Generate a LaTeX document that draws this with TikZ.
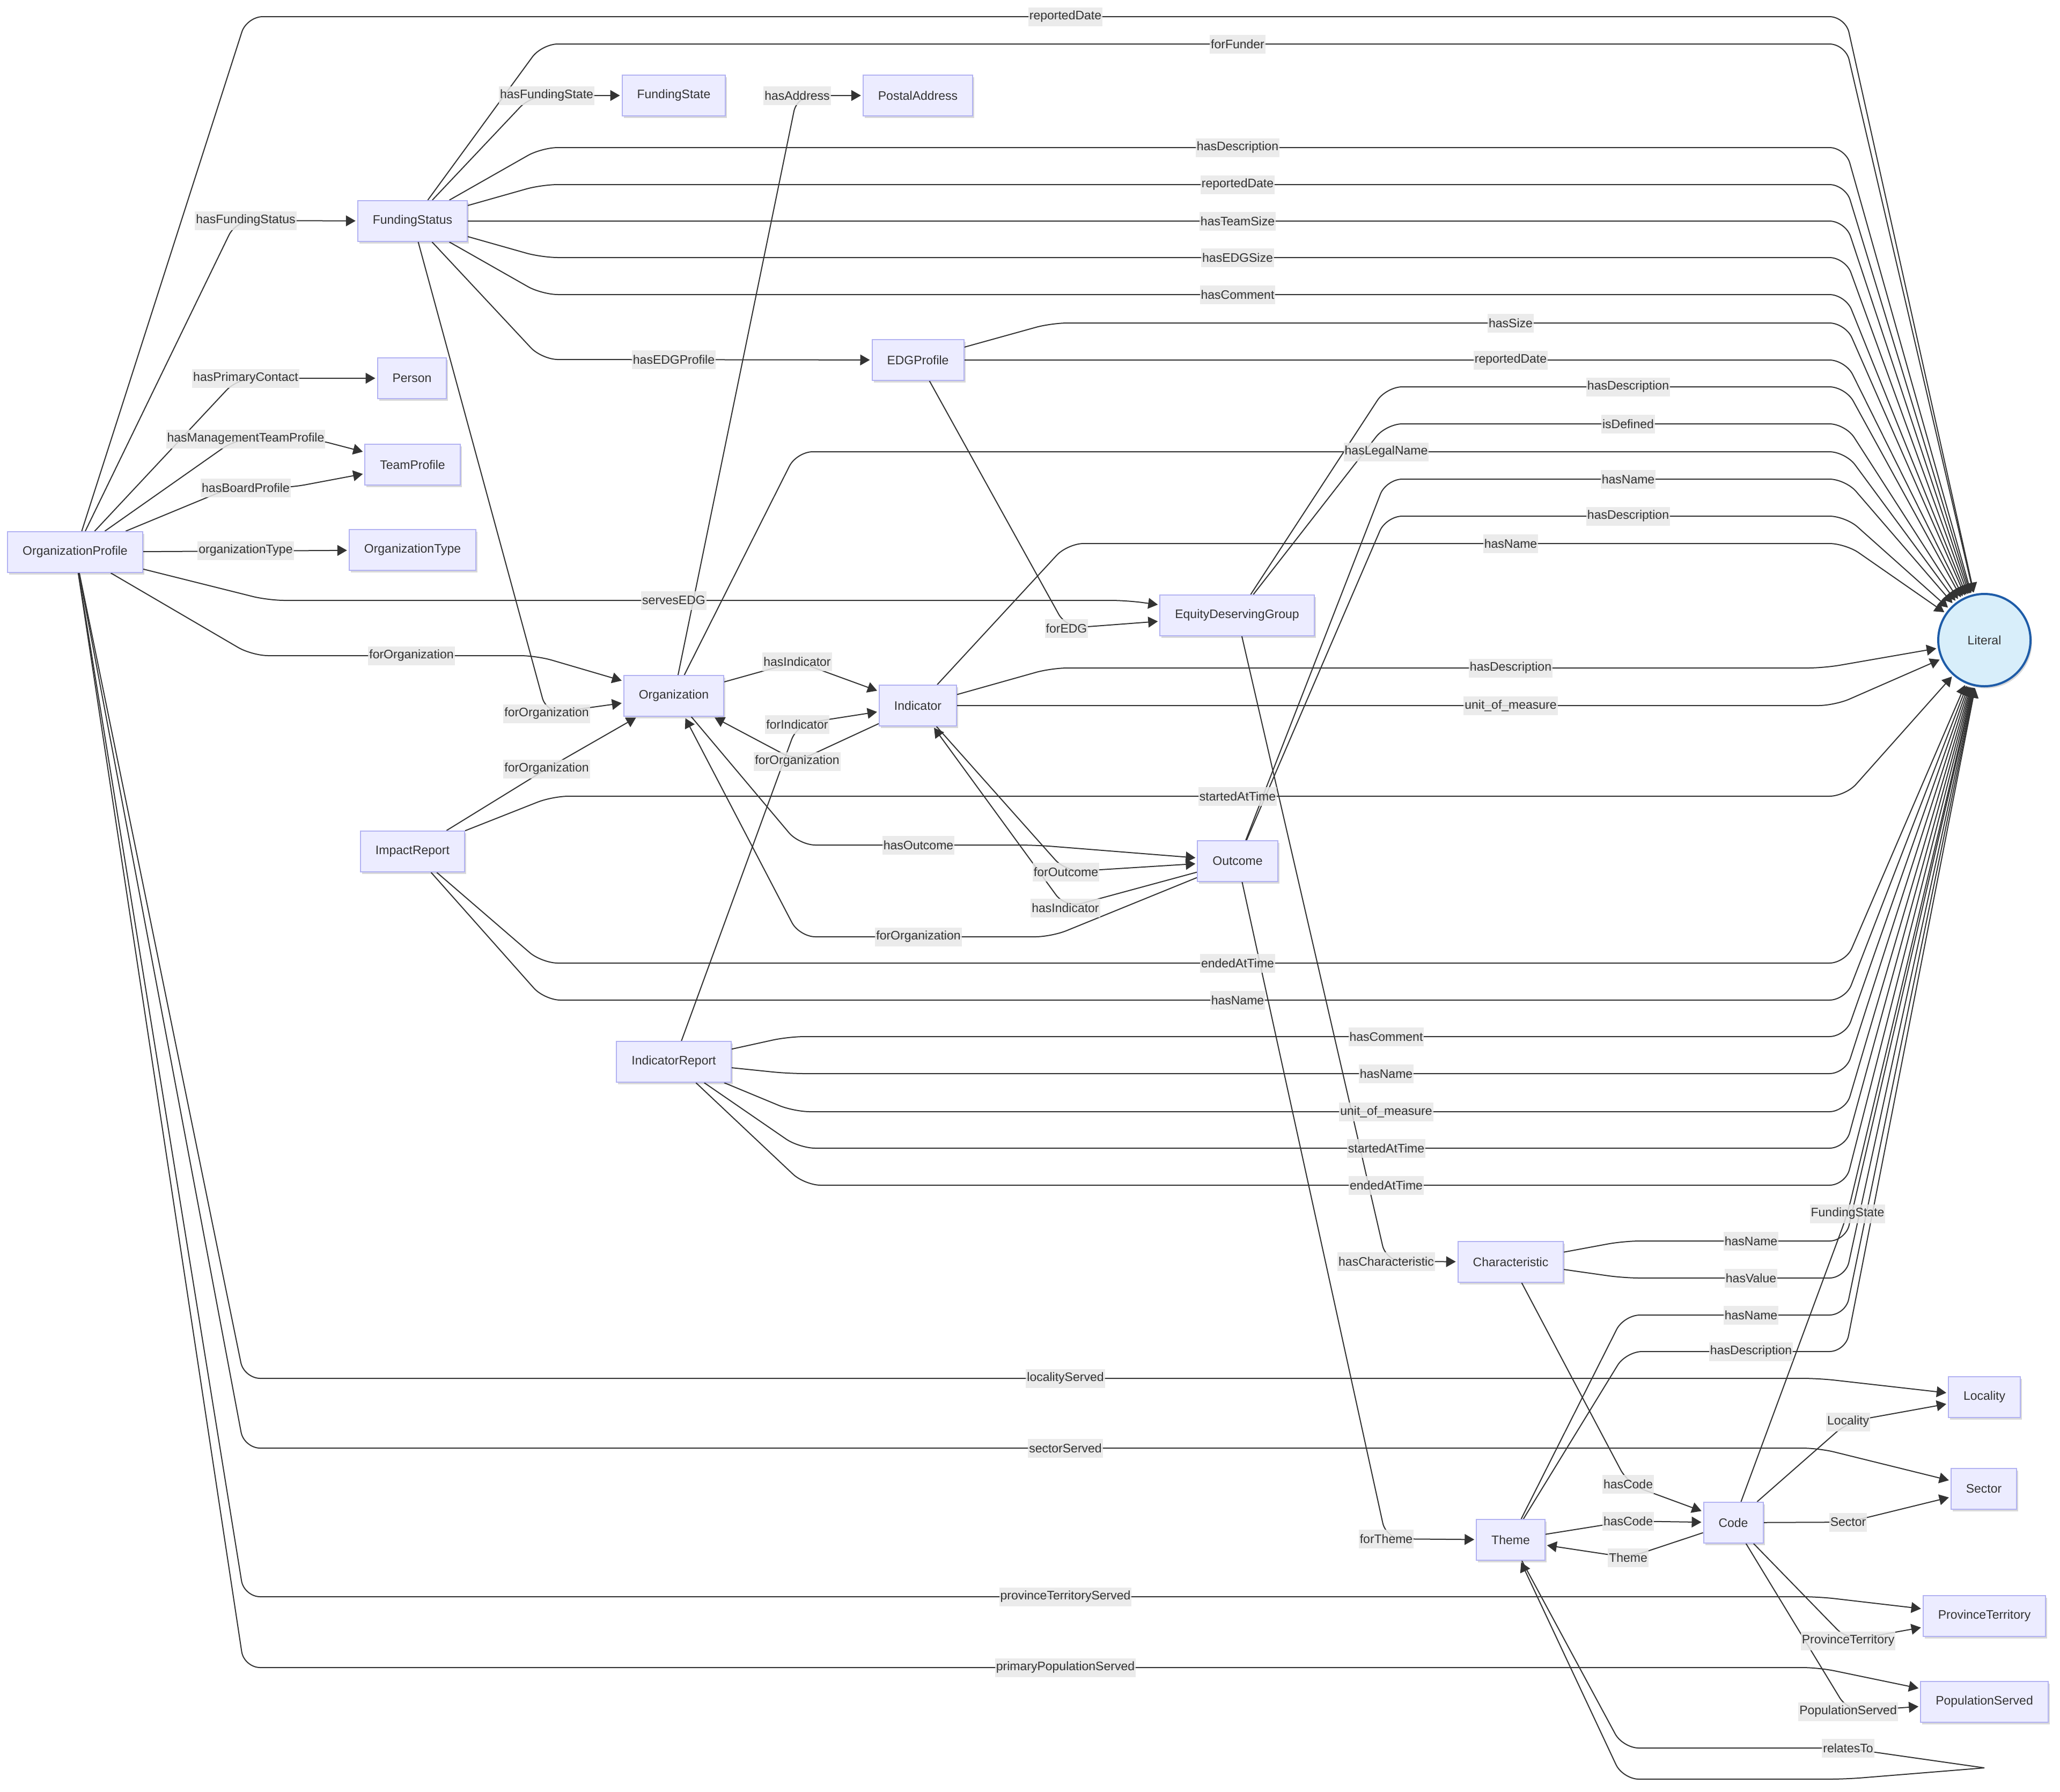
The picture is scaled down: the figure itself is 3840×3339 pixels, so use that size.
\documentclass[tikz,border=0pt]{standalone}
\usepackage{fontspec}
\setmainfont{Liberation Sans}
\usetikzlibrary{arrows.meta,shadows}
\definecolor{nodefill}{HTML}{ECECFF}
\definecolor{nodeline}{HTML}{B2B2F2}
\definecolor{edgeline}{HTML}{333333}
\definecolor{labelfill}{HTML}{E8E8E8}
\definecolor{inktext}{HTML}{333333}
\definecolor{litfill}{HTML}{D8EEFA}
\definecolor{litline}{HTML}{1E5CA8}
\pgfdeclarelayer{bg}
\pgfdeclarelayer{wires}
\pgfsetlayers{bg,wires,main}
\newcommand\dgfont{\fontsize{23pt}{27pt}\selectfont}

\begin{document}
\begin{tikzpicture}[x=1pt,y=-1pt,
  box/.style={draw=nodeline, fill=nodefill, line width=2pt, inner xsep=28pt, inner ysep=0pt,
    minimum height=76pt, text=inktext, font=\dgfont,
    drop shadow={shadow xshift=3pt, shadow yshift=-4pt, opacity=0.15, fill=black}},
  lit/.style={circle, draw=litline, fill=litfill, line width=4pt, minimum size=172pt, inner sep=0pt,
    text=inktext, font=\dgfont,
    drop shadow={shadow xshift=3pt, shadow yshift=-4pt, opacity=0.15, fill=black}},
  lbl/.style={fill=labelfill, fill opacity=0.85, text opacity=1, text=inktext, inner xsep=2pt,
    inner ysep=0pt, minimum height=35pt, font=\dgfont},
  wire/.style={draw=edgeline, line width=2pt, rounded corners=30pt,
    -{Triangle[length=18pt,width=20pt]}, shorten >=3pt},
  bare/.style={draw=edgeline, line width=2pt, rounded corners=30pt},
]
\path[use as bounding box] (0,0) rectangle (3840,3339);
\begin{pgfonlayer}{bg}
  \fill[white] (0,0) rectangle (3840,3339);
\end{pgfonlayer}

% ---- classes ----
\node[box] (op) at (140,1029) {OrganizationProfile};
\node[box] (otype) at (769,1025) {OrganizationType};
\node[box] (fstatus) at (769,412) {FundingStatus};
\node[box] (fstate) at (1256,178) {FundingState};
\node[box] (paddr) at (1711,178) {PostalAddress};
\node[box] (edgp) at (1711,671) {EDGProfile};
\node[box] (person) at (768,705) {Person};
\node[box] (team) at (769,866) {TeamProfile};
\node[box] (org) at (1256,1297) {Organization};
\node[box] (ind) at (1711,1315) {Indicator};
\node[box] (edg) at (2306,1147) {EquityDeservingGroup};
\node[box] (outc) at (2307,1605) {Outcome};
\node[box] (impact) at (769,1587) {ImpactReport};
\node[box] (indrep) at (1256,1979) {IndicatorReport};
\node[box] (charac) at (2816,2352) {Characteristic};
\node[box] (theme) at (2816,2870) {Theme};
\node[box] (code) at (3231,2838) {Code};
\node[box] (loc) at (3699,2604) {Locality};
\node[box] (sector) at (3698,2775) {Sector};
\node[box] (prov) at (3699,3012) {ProvinceTerritory};
\node[box] (popn) at (3699,3172) {PopulationServed};
\node[lit] (literal) at (3699,1193) {Literal};
\coordinate (looptip) at (3699,3295);

% ---- property labels ----
\node[lbl] (l-rd-op) at (1986,31) {reportedDate};
\node[lbl] (l-funder) at (2307,82) {forFunder};
\node[lbl] (l-hfstate) at (1019,178) {hasFundingState};
\node[lbl] (l-addr) at (1486,178) {hasAddress};
\node[lbl] (l-hfstatus) at (458,411) {hasFundingStatus};
\node[lbl] (l-desc-fs) at (2307,275) {hasDescription};
\node[lbl] (l-rd-fs) at (2307,344) {reportedDate};
\node[lbl] (l-team) at (2307,412) {hasTeamSize};
\node[lbl] (l-edgsize) at (2307,480) {hasEDGSize};
\node[lbl] (l-com-fs) at (2307,549) {hasComment};
\node[lbl] (l-size) at (2816,602) {hasSize};
\node[lbl] (l-rd-edgp) at (2816,671) {reportedDate};
\node[lbl] (l-hedgp) at (1256,670) {hasEDGProfile};
\node[lbl] (l-contact) at (458,705) {hasPrimaryContact};
\node[lbl] (l-desc-edg) at (3035,721) {hasDescription};
\node[lbl] (l-defined) at (3035,790) {isDefined};
\node[lbl] (l-legal) at (2584,842) {hasLegalName};
\node[lbl] (l-mgmt) at (458,818) {hasManagementTeamProfile};
\node[lbl] (l-name-out) at (3035,893) {hasName};
\node[lbl] (l-board) at (458,909) {hasBoardProfile};
\node[lbl] (l-desc-out) at (3035,962) {hasDescription};
\node[lbl] (l-name-ind) at (2816,1013) {hasName};
\node[lbl] (l-otype) at (458,1026) {organizationType};
\node[lbl] (l-serves) at (1256,1119) {servesEDG};
\node[lbl] (l-fedg) at (1988,1171) {forEDG};
\node[lbl] (l-fo-op) at (767,1222) {forOrganization};
\node[lbl] (l-hi-org) at (1486,1233) {hasIndicator};
\node[lbl] (l-desc-ind) at (2816,1245) {hasDescription};
\node[lbl] (l-fo-fs) at (1019,1330) {forOrganization};
\node[lbl] (l-find) at (1486,1350) {forIndicator};
\node[lbl] (l-unit-ind) at (2816,1315) {unit\_of\_measure};
\node[lbl] (l-fo-ind) at (1486,1419) {forOrganization};
\node[lbl] (l-fo-ir) at (1019,1433) {forOrganization};
\node[lbl] (l-start-ir) at (2307,1484) {startedAtTime};
\node[lbl] (l-houtc) at (1712,1575) {hasOutcome};
\node[lbl] (l-foutc) at (1987,1625) {forOutcome};
\node[lbl] (l-hi-out) at (1986,1692) {hasIndicator};
\node[lbl] (l-fo-out) at (1712,1746) {forOrganization};
\node[lbl] (l-end-ir) at (2307,1795) {endedAtTime};
\node[lbl] (l-name-ir) at (2307,1864) {hasName};
\node[lbl] (l-com-ir) at (2584,1932) {hasComment};
\node[lbl] (l-name-indr) at (2584,2001) {hasName};
\node[lbl] (l-unit-indr) at (2584,2072) {unit\_of\_measure};
\node[lbl] (l-start-indr) at (2584,2140) {startedAtTime};
\node[lbl] (l-end-indr) at (2584,2209) {endedAtTime};
\node[lbl] (l-fstate) at (3444,2262) {FundingState};
\node[lbl] (l-hchar) at (2584,2351) {hasCharacteristic};
\node[lbl] (l-name-ch) at (3264,2313) {hasName};
\node[lbl] (l-value) at (3264,2382) {hasValue};
\node[lbl] (l-name-th) at (3264,2451) {hasName};
\node[lbl] (l-desc-th) at (3264,2519) {hasDescription};
\node[lbl] (l-locs) at (1986,2569) {localityServed};
\node[lbl] (l-locc) at (3445,2650) {Locality};
\node[lbl] (l-secs) at (1986,2699) {sectorServed};
\node[lbl] (l-hcode-ch) at (3035,2766) {hasCode};
\node[lbl] (l-hcode-th) at (3035,2835) {hasCode};
\node[lbl] (l-secc) at (3445,2837) {Sector};
\node[lbl] (l-ftheme) at (2584,2868) {forTheme};
\node[lbl] (l-theme) at (3035,2903) {Theme};
\node[lbl] (l-provs) at (1986,2976) {provinceTerritoryServed};
\node[lbl] (l-prov) at (3445,3058) {ProvinceTerritory};
\node[lbl] (l-popns) at (1986,3108) {primaryPopulationServed};
\node[lbl] (l-popn) at (3445,3190) {PopulationServed};
\node[lbl] (l-relates) at (3445,3258) {relatesTo};

\begin{pgfonlayer}{wires}
% OrganizationProfile
\draw[wire] (op) -- (460,31) -- (3440,31) -- (literal);
\draw[wire] (op) -- (440,411) -- (fstatus);
\draw[wire] (op) -- (443,705) -- (person);
\draw[wire] (op) -- (440,818) -- (585,818) -- (team);
\draw[wire] (op) -- (430,909) -- (540,909) -- (team);
\draw[wire] (op) -- (otype);
\draw[wire] (op) -- (500,1119) -- (2100,1119) -- (edg);
\draw[wire] (op) -- (470,1222) -- (1000,1222) -- (org);
\draw[wire] (op) -- (455,2569) -- (3390,2569) -- (loc);
\draw[wire] (op) -- (455,2699) -- (3390,2699) -- (sector);
\draw[wire] (op) -- (455,2976) -- (3390,2976) -- (prov);
\draw[wire] (op) -- (455,3108) -- (3390,3108) -- (popn);
% FundingStatus
\draw[wire] (fstatus) -- (1010,82) -- (3440,82) -- (literal);
\draw[wire] (fstatus) -- (990,178) -- (fstate);
\draw[wire] (fstatus) -- (1010,275) -- (3440,275) -- (literal);
\draw[wire] (fstatus) -- (1010,344) -- (3440,344) -- (literal);
\draw[wire] (fstatus) -- (3440,412) -- (literal);
\draw[wire] (fstatus) -- (1010,480) -- (3440,480) -- (literal);
\draw[wire] (fstatus) -- (1010,549) -- (3440,549) -- (literal);
\draw[wire] (fstatus) -- (1010,670) -- (edgp);
\draw[wire] (fstatus) -- (l-fo-fs.center) -- (org);
% Organization
\draw[wire] (org) -- (l-addr.center) -- (paddr);
\draw[wire] (org) -- (1485,842) -- (3440,842) -- (literal);
\draw[wire] (org) -- (l-hi-org.center) -- (ind);
\draw[wire] (org) -- (1490,1575) -- (1930,1575) -- (outc);
% EDGProfile
\draw[wire] (edgp) -- (1960,602) -- (3440,602) -- (literal);
\draw[wire] (edgp) -- (3440,671) -- (literal);
\draw[wire] (edgp) -- (l-fedg.center) -- (edg);
% EquityDeservingGroup
\draw[wire] (edg) -- (2584,721) -- (3440,721) -- (literal);
\draw[wire] (edg) -- (2584,790) -- (3440,790) -- (literal);
\draw[wire] (edg) -- (l-hchar.center) -- (charac);
% Indicator
\draw[wire] (ind) -- (1990,1013) -- (3440,1013) -- (literal);
\draw[wire] (ind) -- (1960,1245) -- (3400,1245) -- (literal);
\draw[wire] (ind) -- (3420,1315) -- (literal);
\draw[wire] (ind) -- (l-fo-ind.center) -- (org);
\draw[wire] (ind) -- (l-foutc.center) -- (outc);
% Outcome
\draw[wire] (outc) -- (2584,893) -- (3440,893) -- (literal);
\draw[wire] (outc) -- (2584,962) -- (3440,962) -- (literal);
\draw[wire] (outc) -- (l-ftheme.center) -- (theme);
\draw[wire] (outc) -- (l-hi-out.center) -- (ind);
\draw[wire] (outc) -- (1960,1746) -- (1490,1746) -- (org);
% ImpactReport
\draw[wire] (impact) -- (l-fo-ir.center) -- (org);
\draw[wire] (impact) -- (1030,1484) -- (3440,1484) -- (literal);
\draw[wire] (impact) -- (1010,1795) -- (3440,1795) -- (literal);
\draw[wire] (impact) -- (1015,1864) -- (3440,1864) -- (literal);
% IndicatorReport
\draw[wire] (indrep) -- (l-find.center) -- (ind);
\draw[wire] (indrep) -- (1470,1932) -- (3440,1932) -- (literal);
\draw[wire] (indrep) -- (1470,2001) -- (3440,2001) -- (literal);
\draw[wire] (indrep) -- (1480,2072) -- (3440,2072) -- (literal);
\draw[wire] (indrep) -- (1490,2140) -- (3440,2140) -- (literal);
\draw[wire] (indrep) -- (1500,2209) -- (3440,2209) -- (literal);
% Characteristic
\draw[wire] (charac) -- (3027,2313) -- (3440,2313) -- (literal);
\draw[wire] (charac) -- (3027,2382) -- (3440,2382) -- (literal);
\draw[wire] (charac) -- (l-hcode-ch.center) -- (code);
% Theme
\draw[wire] (theme) -- (3027,2451) -- (3440,2451) -- (literal);
\draw[wire] (theme) -- (3031,2519) -- (3440,2519) -- (literal);
\draw[wire] (theme) -- (l-hcode-th.center) -- (code);
\draw[bare] (theme) -- (3025,3258) -- (3440,3258) -- (looptip);
\draw[wire] (looptip) -- (3440,3316) -- (3025,3316) -- (theme);
% Code
\draw[wire] (code) -- (l-fstate.center) -- (literal);
\draw[wire] (code) -- (l-locc.center) -- (loc);
\draw[wire] (code) -- (l-secc.center) -- (sector);
\draw[wire] (code) -- (l-theme.center) -- (theme);
\draw[wire] (code) -- (l-prov.center) -- (prov);
\draw[wire] (code) -- (l-popn.center) -- (popn);
\end{pgfonlayer}
\end{tikzpicture}
\end{document}
